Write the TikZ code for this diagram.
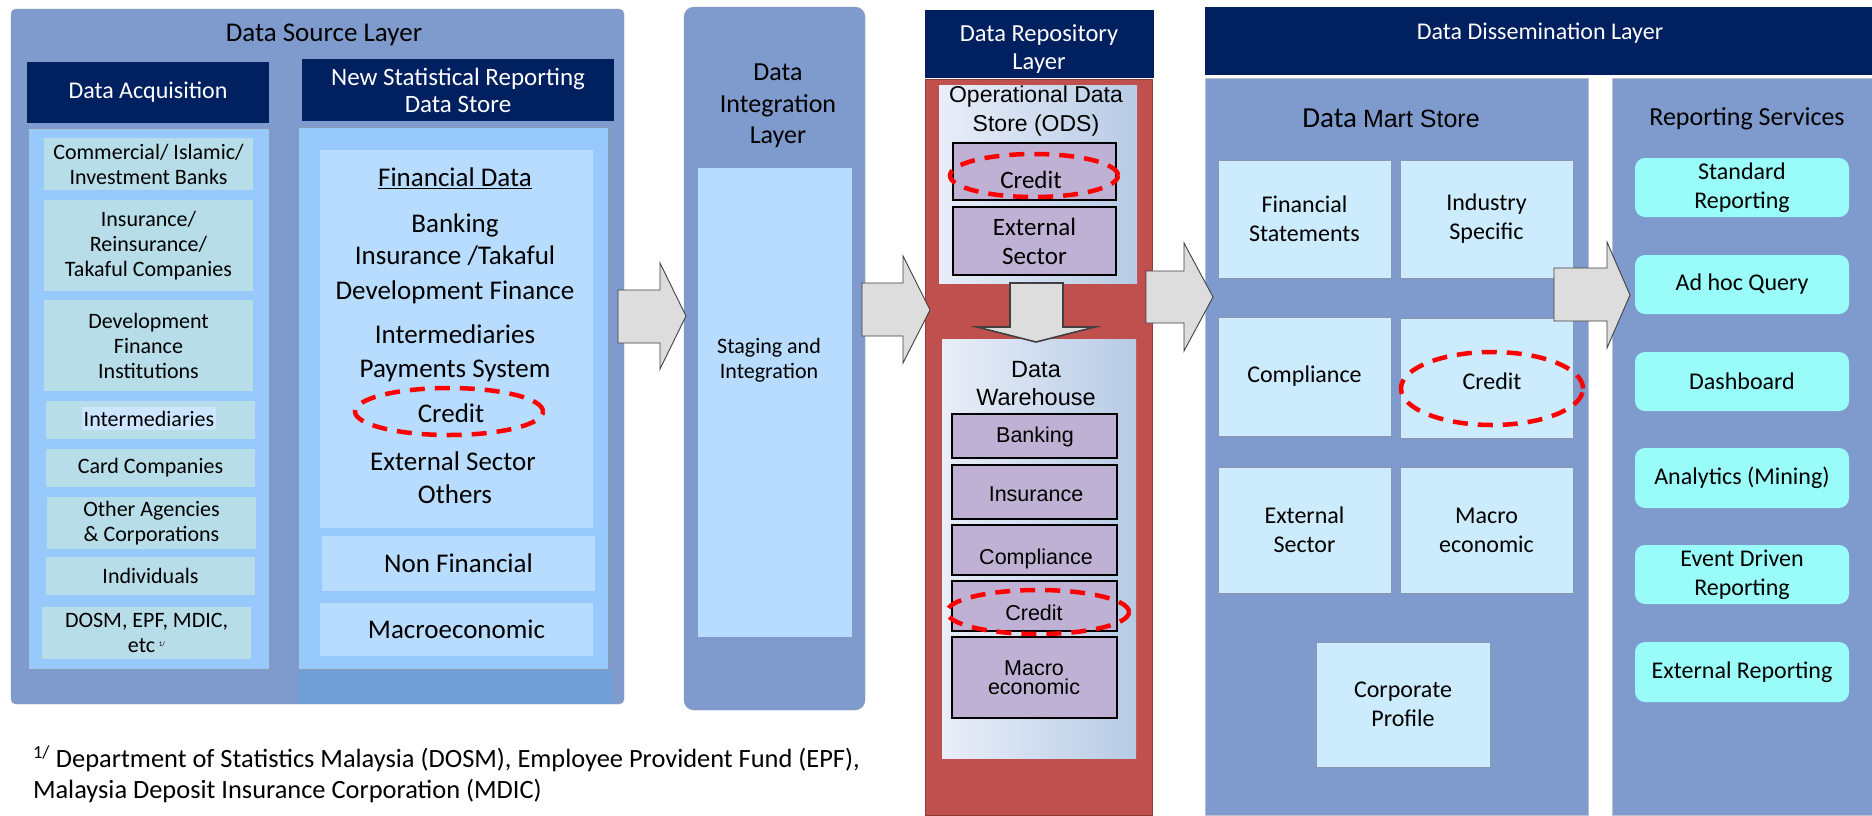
\documentclass[tikz,border=0pt]{standalone}
\usepackage{fontspec}
\setmainfont{Carlito}
\newfontfamily\arialf{Liberation Sans}
\usetikzlibrary{fit,shapes.geometric}
\newcommand\fsz[2]{\fontsize{#1pt}{#2pt}\selectfont}
\definecolor{steel}{RGB}{127,154,204}
\definecolor{navy}{RGB}{0,32,96}
\definecolor{paleblue}{RGB}{151,201,253}
\definecolor{itemblue}{RGB}{183,220,254}
\definecolor{tealbox}{RGB}{183,221,232}
\definecolor{hilite}{RGB}{204,230,255}
\definecolor{bandblue}{RGB}{112,159,216}
\definecolor{repred}{RGB}{192,80,77}
\definecolor{lilac}{RGB}{191,177,211}
\definecolor{martblue}{RGB}{204,235,252}
\definecolor{cyanbox}{RGB}{154,252,248}
\definecolor{arrowgray}{RGB}{221,221,221}
\definecolor{odsL}{RGB}{233,238,248}
\definecolor{odsR}{RGB}{183,203,229}
\definecolor{edgegray}{RGB}{140,152,176}
\tikzset{
  box/.style={inner sep=0pt, outer sep=0pt},
  srcitem/.style={box, fill=tealbox},
  finitem/.style={box, fill=itemblue},
  lilacbox/.style={box, fill=lilac, draw=black, line width=2pt},
  martbox/.style={box, fill=martblue, draw=edgegray, line width=0.8pt},
  repbox/.style={box, fill=cyanbox, rounded corners=10pt},
  srctext/.style={font=\fsz{22}{25}},
  fintext/.style={font=\fsz{27}{32}},
  whtext/.style={font=\arialf\fsz{21.5}{25}},
  marttext/.style={font=\fsz{24}{29}},
  blockarrow/.style={fill=arrowgray, draw=black!75, line width=0.9pt, line join=miter},
  credring/.style={ellipse, draw=red, line width=4.5pt, dash pattern=on 15pt off 10pt, inner sep=0pt},
}
\begin{document}
\begin{tikzpicture}[x=1pt, y=-1pt, every node/.style={inner sep=0pt, outer sep=0pt, align=center}]
\useasboundingbox (0,0) rectangle (1872,815);

% ---------------- Data source layer ----------------
\node[box, fit={(11,9) (624,704)}, fill=steel, draw=edgegray, rounded corners=5pt] (src) {};
\node[font=\fsz{27}{32}] (srcT) at (324,35) {Data Source Layer};
\node[box, fit={(27,62) (269,123)}, fill=navy] (acqH) {};
\node[text=white, font=\fsz{24}{29}] (acqHt) at (acqH.center) {Data Acquisition};
\node[box, fit={(302,59) (614,121)}, fill=navy] (nsrH) {};
\node[text=white, font=\fsz{25}{27}] (nsrHt) at (nsrH.center) {New Statistical Reporting\\Data Store};
\node[box, fit={(299,669) (612,704)}, fill=bandblue] (band) {};
\node[box, fit={(28,128) (269,669)}, fill=paleblue, draw=edgegray, line width=0.8pt] (acqP) {};
\node[box, fit={(298,127) (608,669)}, fill=paleblue, draw=edgegray, line width=0.8pt] (nsrP) {};

% acquisition sources
\node[srcitem, fit={(44,138) (253,190)}] (i1) {};
\node[srctext] (i1t) at (i1.center) {Commercial/ Islamic/\\Investment Banks};
\node[srcitem, fit={(44,200) (253,291)}] (i2) {};
\node[srctext] (i2t) at (i2.center) {Insurance/\\Reinsurance/\\Takaful Companies};
\node[srcitem, fit={(44,300) (253,391)}] (i3) {};
\node[srctext] (i3t) at (i3.center) {Development\\Finance\\Institutions};
\node[srcitem, fit={(46,401) (255,439)}] (i4) {};
\node[box, fit={(82,407) (216,430)}, fill=hilite] (i4h) {};
\node[srctext] (i4t) at (i4h.center) {Intermediaries};
\node[srcitem, fit={(46,449) (255,487)}] (i5) {};
\node[srctext] (i5t) at (i5.center) {Card Companies};
\node[srcitem, fit={(47,497) (256,549)}] (i6) {};
\node[srctext] (i6t) at (i6.center) {Other Agencies\\\& Corporations};
\node[srcitem, fit={(46,557) (255,595)}] (i7) {};
\node[srctext] (i7t) at (i7.center) {Individuals};
\node[srcitem, fit={(42,607) (251,659)}] (i8) {};
\node[srctext] (i8t) at (i8.center) {DOSM, EPF, MDIC,\\etc\,\raisebox{0.6ex}{\fsz{7}{8}1/}};

% statistical reporting data store
\node[finitem, fit={(320,150) (593,528)}] (fin) {};
\node[fintext] (fin0) at (455,178) {\underline{Financial Data}};
\node[fintext] (fin1) at (455,225) {Banking};
\node[fintext] (fin2) at (455,256) {Insurance /Takaful};
\node[fintext] (fin3) at (455,292) {Development Finance};
\node[fintext] (fin4) at (455,334) {Intermediaries};
\node[fintext] (fin5) at (455,371) {Payments System};
\node[fintext] (fin6) at (451,413) {Credit};
\node[fintext] (fin7) at (453,461) {External Sector};
\node[fintext] (fin8) at (455,494) {Others};
\node[finitem, fit={(322,536) (595,591)}] (nonfin) {};
\node[fintext] (nonfint) at (nonfin.center) {Non Financial};
\node[finitem, fit={(320,603) (593,656)}] (macro) {};
\node[fintext] (macrot) at (macro.center) {Macroeconomic};

% ---------------- Data integration layer ----------------
\node[box, fit={(684,7) (865,710)}, fill=steel, draw=edgegray, rounded corners=10pt] (integ) {};
\node[font=\fsz{26}{31.5}] (integT) at (778,106) {Data\\Integration\\Layer};
\node[box, fit={(698,168) (852,637)}, fill=itemblue] (stage) {};
\node[font=\fsz{22}{25}] (stageT) at (769,360) {Staging and\\Integration};

% ---------------- Data repository layer ----------------
\node[box, fit={(925,79) (1152,815)}, fill=repred, draw=repred!75!black, line width=0.8pt] (repo) {};
\node[box, fit={(925,10) (1154,78)}, fill=navy] (repoH) {};
\node[text=white, font=\fsz{24.5}{28}] (repoT) at (1039,49) {Data Repository\\Layer};

\node[box, fit={(939,85) (1137,283)}, left color=odsL, right color=odsR] (ods) {};
\node[font=\arialf\fsz{23}{29}] (odsT) at (1036,111) {Operational Data\\Store (ODS)};
\node[lilacbox, fit={(953,143) (1116,200)}] (odsC) {};
\node[font=\fsz{25}{29}] (odsCt) at (1031,180) {Credit};
\node[lilacbox, fit={(953,207) (1116,275)}] (odsE) {};
\node[font=\fsz{25}{29}] (odsEt) at (odsE.center) {External\\Sector};

\node[box, fit={(942,339) (1136,758)}, left color=odsL, right color=odsR] (wh) {};
\node[font=\arialf\fsz{23.5}{28}] (whT) at (1036,384) {Data\\Warehouse};
\node[lilacbox, fit={(952,414) (1117,458)}] (whB) {};
\node[whtext] (whBt) at (1035,437) {Banking};
\node[lilacbox, fit={(952,465) (1117,519)}] (whI) {};
\node[whtext] (whIt) at (1036,494) {Insurance};
\node[lilacbox, fit={(952,525) (1117,575)}] (whC) {};
\node[whtext] (whCt) at (1036,559) {Compliance};
\node[lilacbox, fit={(952,581) (1117,631)}] (whCr) {};
\node[whtext] (whCrt) at (1034,613) {Credit};
\node[lilacbox, fit={(952,637) (1117,718)}] (whM) {};
\node[font=\arialf\fsz{21.5}{19}] (whMt) at (1034,678) {Macro\\economic};

% ---------------- Data dissemination layer ----------------
\node[box, fit={(1205,7) (1872,75)}, fill=navy] (dissH) {};
\node[text=white, font=\fsz{24}{29}] (dissT) at (1540,33) {Data Dissemination Layer};

\node[box, fit={(1205,78) (1588,815)}, fill=steel, draw=edgegray!60, line width=0.8pt] (mart) {};
\node (martT) at (1391,118) {{\fsz{29}{32}Data}\hspace{6pt}{\arialf\fsz{25}{32}Mart Store}};
\node[martbox, fit={(1218,160) (1391,278)}] (m1) {};
\node[marttext] (m1t) at (m1.center) {Financial\\Statements};
\node[martbox, fit={(1400,160) (1573,278)}] (m2) {};
\node[marttext] (m2t) at (m2.center) {Industry\\Specific};
\node[martbox, fit={(1218,317) (1391,436)}] (m3) {};
\node[marttext] (m3t) at (m3.center) {Compliance};
\node[martbox, fit={(1400,318) (1573,438)}] (m4) {};
\node[marttext] (m4t) at (1492,381) {Credit};
\node[martbox, fit={(1218,467) (1391,593)}] (m5) {};
\node[marttext] (m5t) at (m5.center) {External\\Sector};
\node[martbox, fit={(1400,467) (1573,593)}] (m6) {};
\node[marttext] (m6t) at (m6.center) {Macro\\economic};
\node[martbox, fit={(1316,642) (1490,767)}] (m7) {};
\node[marttext] (m7t) at (m7.center) {Corporate\\Profile};

\node[box, fit={(1612,78) (1872,815)}, fill=steel, draw=edgegray!60, line width=0.8pt] (rep) {};
\node[font=\fsz{26}{30}] (repT) at (1747,119) {Reporting Services};
\node[repbox, fit={(1635,158) (1849,217)}] (r1) {};
\node[marttext] (r1t) at (r1.center) {Standard\\Reporting};
\node[repbox, fit={(1635,255) (1849,314)}] (r2) {};
\node[marttext] (r2t) at (r2.center) {Ad hoc Query};
\node[repbox, fit={(1635,352) (1849,411)}] (r3) {};
\node[marttext] (r3t) at (r3.center) {Dashboard};
\node[repbox, fit={(1635,448) (1849,508)}] (r4) {};
\node[marttext] (r4t) at (r4.center) {Analytics (Mining)};
\node[repbox, fit={(1635,545) (1849,604)}] (r5) {};
\node[marttext] (r5t) at (r5.center) {Event Driven\\Reporting};
\node[repbox, fit={(1635,642) (1849,702)}] (r6) {};
\node[marttext] (r6t) at (r6.center) {External Reporting};

% ---------------- block arrows between layers ----------------
\draw[blockarrow] (618,290) -- (660,290) -- (660,263) -- (686,316) -- (660,369) -- (660,343) -- (618,343) -- cycle;
\draw[blockarrow] (862,283) -- (903,283) -- (903,256) -- (930,310) -- (903,363) -- (903,336) -- (862,336) -- cycle;
\draw[blockarrow] (1146,271) -- (1184,271) -- (1184,243) -- (1213,297) -- (1184,351) -- (1184,323) -- (1146,323) -- cycle;
\draw[blockarrow] (1554,268) -- (1607,268) -- (1607,242) -- (1630,295) -- (1607,348) -- (1607,321) -- (1554,321) -- cycle;
% ODS feeds the warehouse
\draw[blockarrow, line width=1.6pt] (1010,283) -- (1063,283) -- (1063,327) -- (1095,327) -- (1036,342) -- (977,327) -- (1010,327) -- cycle;

% ---------------- credit highlights ----------------
\node[credring, minimum width=188pt, minimum height=47pt] (ring1) at (449,411.5) {};
\node[credring, minimum width=168pt, minimum height=43pt] (ring2) at (1034,175.5) {};
\node[credring, minimum width=182pt, minimum height=44pt] (ring3) at (1038,612) {};
\node[credring, minimum width=182pt, minimum height=73pt] (ring4) at (1492,388.5) {};

% ---------------- footnote ----------------
\node[anchor=west, align=left, font=\fsz{26.4}{31}] (note) at (33,774.5)
  {\textsuperscript{1/} Department of Statistics Malaysia (DOSM), Employee Provident Fund (EPF),\\Malaysia Deposit Insurance Corporation (MDIC)};
\end{tikzpicture}
\end{document}
